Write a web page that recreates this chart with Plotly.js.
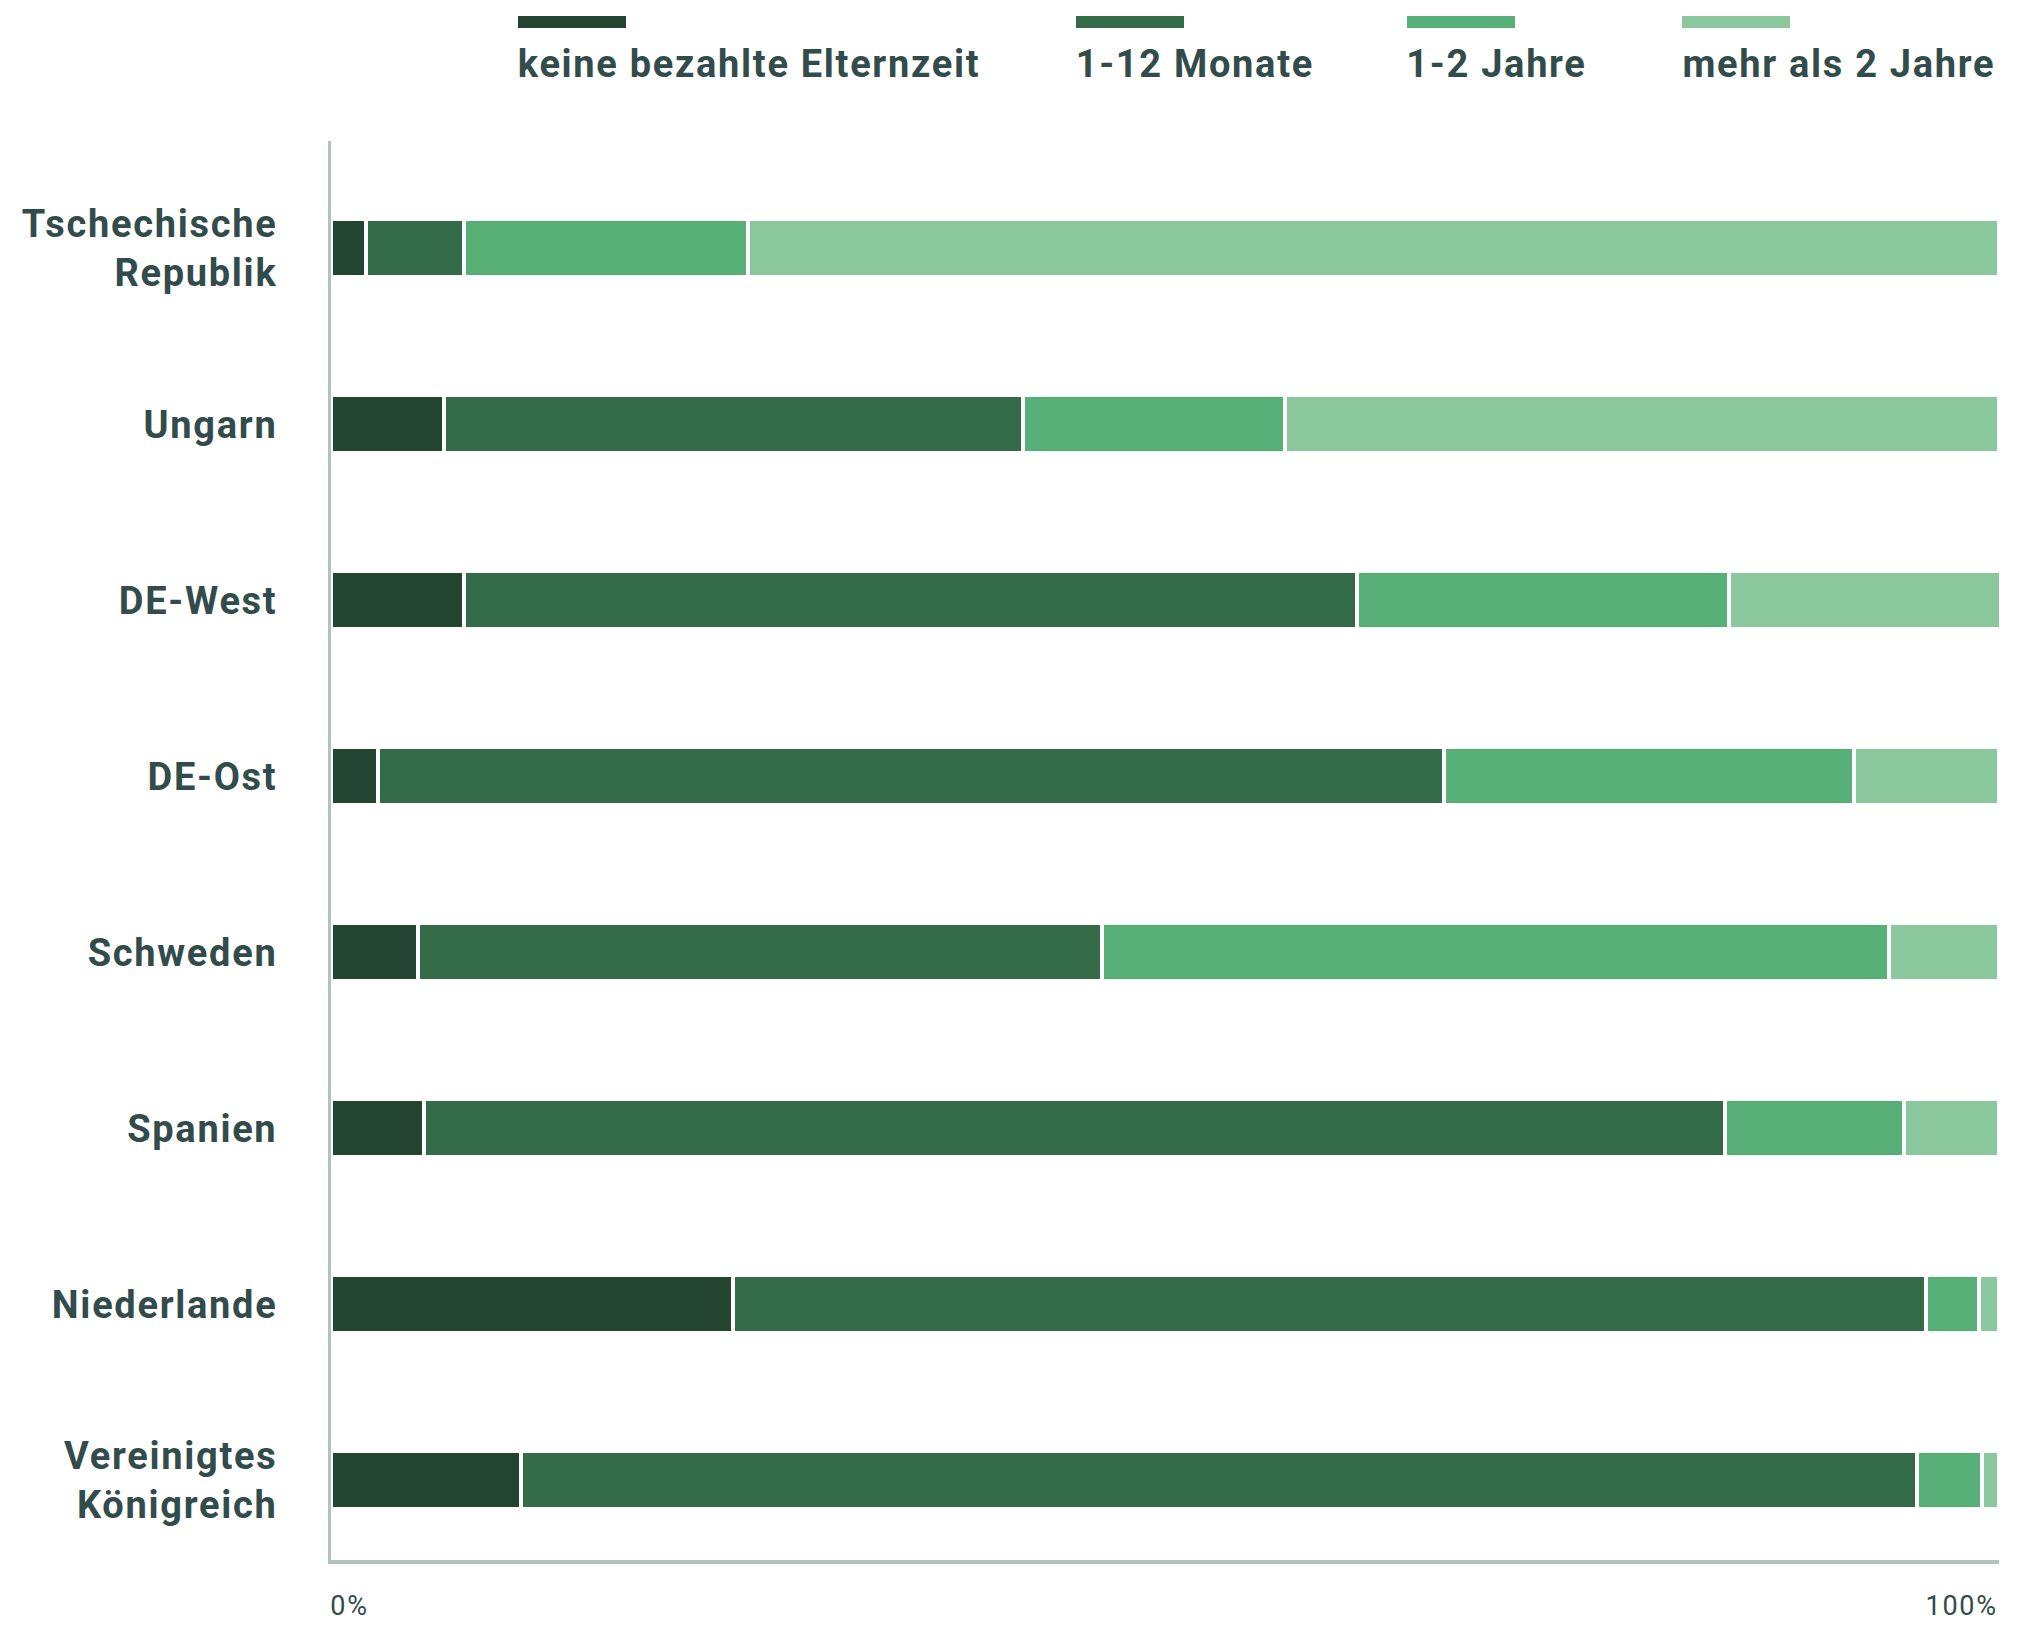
<!DOCTYPE html>
<html><head><meta charset="utf-8">
<script src="https://cdn.plot.ly/plotly-3.0.1.min.js"></script>
<style>html,body{margin:0;padding:0;background:#fff;} #chart{width:2017px;height:1634px;}
#chart svg text{letter-spacing:1.7px;}</style>
</head><body><div id="chart"></div>
<script>
// ---- data ----
const countries = ["Tschechische<br>Republik","Ungarn","DE-West","DE-Ost","Schweden","Spanien","Niederlande","Vereinigtes<br>Königreich"];
const seriesNames = ["keine bezahlte Elternzeit","1-12 Monate","1-2 Jahre","mehr als 2 Jahre"];
const keineBezahlt = [2.1, 6.8, 8.0, 2.8, 5.2, 5.6, 24.1, 11.4];
const monate1bis12 = [5.9, 34.7, 53.5, 63.9, 41.0, 78.0, 71.5, 83.7];
const jahre1bis2   = [17.0, 15.7, 22.3, 24.6, 47.2, 10.7, 3.2, 3.9];
const mehrAls2     = [75.0, 42.8, 16.4, 8.7, 6.6, 5.7, 1.2, 1.0];
const xTickVals = [0, 100];
const xTickText = ["0%", "100%"];

// ---- style ----
const colors = ["#234430","#336a47","#57b078","#8bc79d"];
const textColor = "#324b4b";
const axisColor = "#b4c1c1";
const W = 2017, H = 1634;
const M = {l: 331, r: 18, t: 141, b: 74};
const pw = W - M.l - M.r, ph = H - M.t - M.b;
const px2x = p => (p - M.l) / pw;
const px2y = p => (H - M.b - p) / ph;

const seriesValues = [keineBezahlt, monate1bis12, jahre1bis2, mehrAls2];
const traces = seriesValues.map((vals, i) => ({
  type: 'bar', orientation: 'h', name: seriesNames[i],
  x: vals, y: countries, width: 0.33,
  marker: {color: colors[i], line: {color: '#ffffff', width: 4}},
  hoverinfo: 'skip', showlegend: false
}));

const legendLeft = [518, 1076, 1407, 1682];
const legendShift = [19, 6.5, 5, 12];
const shapes = seriesNames.map((n, i) => ({
  type: 'rect', xref: 'paper', yref: 'paper',
  x0: px2x(legendLeft[i]), x1: px2x(legendLeft[i] + 108),
  y0: px2y(28), y1: px2y(16),
  fillcolor: colors[i], line: {width: 0}
}));
const annotations = seriesNames.map((n, i) => ({
  xref: 'paper', yref: 'paper', x: px2x(legendLeft[i]), y: px2y(64),
  xanchor: 'left', yanchor: 'middle', showarrow: false, text: n, xshift: legendShift[i],
  font: {family: 'Roboto', size: 38, weight: 700, color: textColor}
}));
xTickVals.forEach((v, i) => annotations.push({
  xref: 'x', yref: 'paper', x: v, y: px2y(1606),
  xanchor: i === 0 ? 'left' : 'right', yanchor: 'middle', showarrow: false,
  xshift: i === 0 ? -1 : -3,
  text: xTickText[i],
  font: {family: 'Roboto', size: 27, weight: 400, color: textColor}
}));

const layout = {
  width: W, height: H, margin: M, barmode: 'stack',
  paper_bgcolor: '#fff', plot_bgcolor: '#fff',
  xaxis: {range: [0, 100], showline: true, linecolor: axisColor, linewidth: 4,
          showgrid: false, zeroline: false, showticklabels: false, ticks: '', fixedrange: true},
  yaxis: {type: 'category', categoryorder: 'array', categoryarray: countries,
          range: [7.453, -0.610], autorange: false,
          showline: true, linecolor: axisColor, linewidth: 3, showgrid: false, zeroline: false,
          ticks: '', ticklabelstandoff: 43, fixedrange: true,
          tickfont: {family: 'Roboto', size: 38, weight: 700, color: textColor}},
  shapes: shapes, annotations: annotations, bargap: 0
};
Plotly.newPlot('chart', traces, layout, {displayModeBar: false, staticPlot: true});
</script></body></html>
